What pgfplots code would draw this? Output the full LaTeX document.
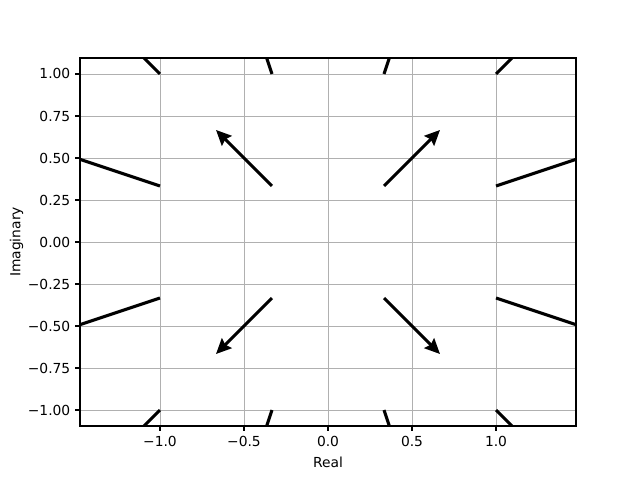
\documentclass[border=0pt]{standalone}
\usepackage{fontspec}
\setmainfont{DejaVu Sans}
\usepackage{pgfplots}
\pgfplotsset{compat=1.18}
\usetikzlibrary{arrows.meta,calc}
\definecolor{gridgray}{HTML}{B0B0B0}

\pgfplotstableread{
x y u v
-1 -1 -1 -1
-1 -0.3333 -1 -0.3333
-1 0.3333 -1 0.3333
-1 1 -1 1
-0.3333 -1 -0.3333 -1
-0.3333 -0.3333 -0.3333 -0.3333
-0.3333 0.3333 -0.3333 0.3333
-0.3333 1 -0.3333 1
0.3333 -1 0.3333 -1
0.3333 -0.3333 0.3333 -0.3333
0.3333 0.3333 0.3333 0.3333
0.3333 1 0.3333 1
1 -1 1 -1
1 -0.3333 1 -0.3333
1 0.3333 1 0.3333
1 1 1 1
}\field

\begin{document}
\begin{tikzpicture}
\begin{axis}[
  name=ax,
  scale only axis,
  width=4.96in, height=3.68in,
  xmin=-1.476, xmax=1.476,
  ymin=-1.095, ymax=1.095,
  xtick={-1,-0.5,0,0.5,1},
  xticklabels={−1.0,−0.5,0.0,0.5,1.0},
  ytick={-1,-0.75,-0.5,-0.25,0,0.25,0.5,0.75,1},
  yticklabels={−1.00,−0.75,−0.50,−0.25,0.00,0.25,0.50,0.75,1.00},
  tick align=outside,
  tick pos=left,
  major tick length=3.5pt,
  every tick/.style={black, line width=0.8pt},
  axis line style={line width=0.8pt},
  grid=major,
  grid style={gridgray, line width=0.6pt},
  tick label style={font=\fontsize{10}{12}\selectfont},
  label style={font=\fontsize{10}{12}\selectfont},
  xlabel={Real},
  ylabel={Imaginary},
  xlabel style={yshift=-1pt},
  ylabel style={yshift=-3.5pt},
]
\addplot[black, line width=2.2pt,
  -{Stealth[length=11pt, width=10pt, inset=1.5pt]},
  quiver={u=\thisrow{u}, v=\thisrow{v}}] table {\field};
\end{axis}
\pgfresetboundingbox
\path ($(ax.south west)+(-0.8in,-0.54in)$) rectangle ($(ax.north east)+(0.64in,0.58in)$);
\end{tikzpicture}
\end{document}
